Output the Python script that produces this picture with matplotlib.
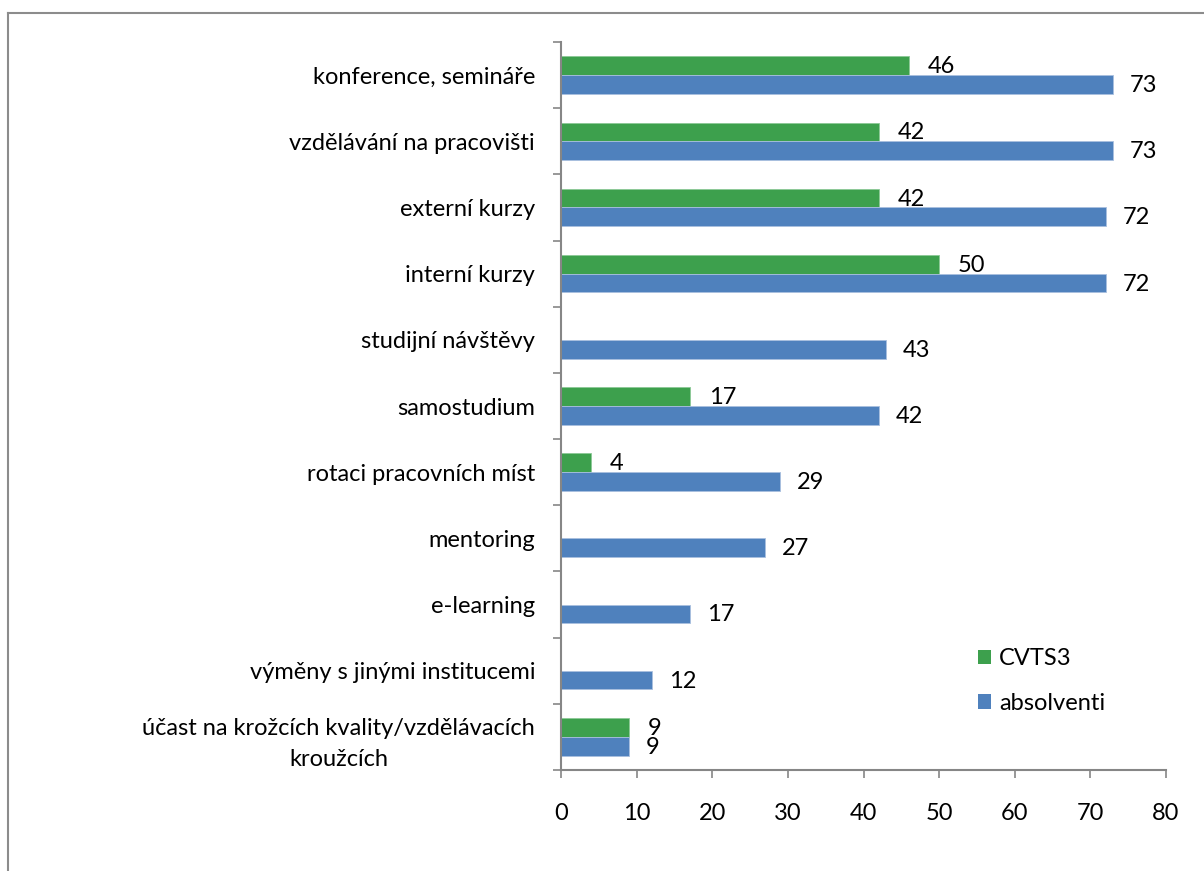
import numpy as np
import matplotlib
matplotlib.use("Agg")
import matplotlib.pyplot as plt
from matplotlib.lines import Line2D
from matplotlib.patches import Patch

plt.rcParams['font.family'] = ['Lato', 'DejaVu Sans']

categories = [
    "konference, semináře",
    "vzdělávání na pracovišti",
    "externí kurzy",
    "interní kurzy",
    "studijní návštěvy",
    "samostudium",
    "rotaci pracovních míst",
    "mentoring",
    "e-learning",
    "výměny s jinými institucemi",
    "účast na krožcích kvality/vzdělávacích\nkroužcích",
]
cvts3 = [46, 42, 42, 50, None, 17, 4, None, None, None, 9]
absolventi = [73, 73, 72, 72, 43, 42, 29, 27, 17, 12, 9]
xticks = [0, 10, 20, 30, 40, 50, 60, 70, 80]

green = "#3DA04D"
blue = "#4F81BD"
axis_gray = "#868686"
fs = 17
px = 72 / 100  # points per pixel at 100 dpi

fig = plt.figure(figsize=(12.04, 8.71), dpi=100)
ax = fig.add_axes([561 / 1204, 1 - 770 / 871, (1166 - 561) / 1204, (770 - 42) / 871])

n = len(categories)
y = np.arange(n)
h = 0.283

g_vals = np.array([np.nan if v is None else v for v in cvts3], dtype=float)
ax.barh(y - h / 2, g_vals, height=h, color=green, edgecolor="#8cc896", linewidth=0.6, label="CVTS3")
ax.barh(y + h / 2, absolventi, height=h, color=blue, edgecolor="#a9c0df", linewidth=0.6, label="absolventi")

for yi, v in zip(y, cvts3):
    if v is not None:
        ax.annotate(str(v), (v, yi - h / 2), xytext=(19 * px, -1 * px), textcoords="offset points",
                    ha="left", va="center", fontsize=fs)
for yi, v in zip(y, absolventi):
    ax.annotate(str(v), (v, yi + h / 2), xytext=(17 * px, -1 * px), textcoords="offset points",
                ha="left", va="center", fontsize=fs)

ax.set_xlim(0, 80)
ax.set_ylim(n - 0.5, -0.5)
ax.set_xticks(xticks)
ax.set_xticklabels([str(t) for t in xticks], fontsize=fs)
ax.tick_params(axis="x", direction="out", length=6, width=1.2, color=axis_gray, pad=18)

ax.set_yticks(y)
ax.set_yticklabels(categories, fontsize=fs, multialignment="center", linespacing=1.6)
ax.tick_params(axis="y", which="major", length=0, pad=26 * px)
ax.set_yticks(np.arange(-0.5, n, 1.0), minor=True)
ax.tick_params(axis="y", which="minor", direction="out", length=6, width=1.2, color=axis_gray)

for side in ["top", "right"]:
    ax.spines[side].set_visible(False)
for side in ["left", "bottom"]:
    ax.spines[side].set_color(axis_gray)
    ax.spines[side].set_linewidth(1.5)

handles = [Patch(facecolor=green, label="CVTS3"), Patch(facecolor=blue, label="absolventi")]
leg = ax.legend(handles=handles, loc="center left",
                bbox_to_anchor=((978 - 561) / 605, 1 - (681 - 42) / 728),
                frameon=False, fontsize=fs, handlelength=0.55, handleheight=0.55, handletextpad=0.35,
                labelspacing=1.0, borderaxespad=0, borderpad=0)

# outer chart frame
fig.add_artist(Line2D([8 / 1204, 8 / 1204], [0, 1 - 13 / 871], color="#8c8c8c", lw=1.5,
                      transform=fig.transFigure))
fig.add_artist(Line2D([8 / 1204, 1], [1 - 13 / 871, 1 - 13 / 871], color="#8c8c8c", lw=1.5,
                      transform=fig.transFigure))

fig.savefig("out.png", dpi=100, facecolor="white")
